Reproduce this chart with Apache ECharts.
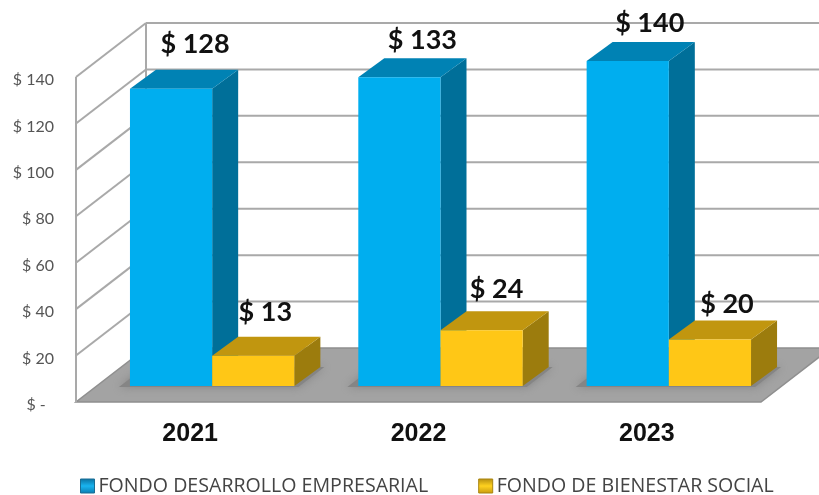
<!DOCTYPE html>
<html>
<head>
<meta charset="utf-8">
<style>
html, body { margin: 0; padding: 0; background: #fff; }
#Chart { width: 819px; height: 495px; }
</style>
<script src="https://cdn.jsdelivr.net/npm/echarts@6/dist/echarts.min.js"></script>
</head>
<body>
<div id="Chart"></div>
<script>
var categories = ['2021', '2022', '2023'];
var desarrollo = [128, 133, 140];
var bienestar = [13, 24, 20];
var yTicks = [0, 20, 40, 60, 80, 100, 120, 140];
var nameDesarrollo = 'FONDO DESARROLLO EMPRESARIAL';
var nameBienestar = 'FONDO DE BIENESTAR SOCIAL';

// 3d look: how far the back wall and the bars sit from the front plane
var WALL_DX = 70, WALL_DY = -54;
var BAR_DX = 22, BAR_DY = -16;
var DEPTH_DX = 26, DEPTH_DY = -19;
var LINE = '#a9a9a9';

var blue = {front: '#00aeef', top: '#0082b4', side: '#006f99'};
var yellow = {front: '#ffc716', top: '#c1960f', side: '#9c7c0d'};

// data labels were dragged by hand in the original, so each has its own nudge
var nudgeDesarrollo = [[24, -45], [23, -37], [22, -38]];
var nudgeBienestar = [[12, -44], [15, -41], [17, -35]];

var Chart = echarts.init(document.getElementById('Chart'));

function renderFrame(params, api) {
    var tick = api.value(0);
    var sys = params.coordSys;
    var y = api.coord([0, tick])[1];
    var x0 = sys.x, x1 = sys.x + sys.width;
    var children = [];
    var lineStyle = {stroke: LINE, lineWidth: 2};
    if (tick === 0) {
        children.push({
            type: 'polygon',
            shape: {points: [[x0, y], [x1, y], [x1 + WALL_DX, y + WALL_DY], [x0 + WALL_DX, y + WALL_DY]]},
            style: {fill: '#a3a3a3', stroke: '#8f8f8f', lineWidth: 1.5}
        });
        children.push({
            type: 'line',
            shape: {x1: x0, y1: y, x2: x0, y2: sys.y},
            style: lineStyle
        });
        children.push({
            type: 'line',
            shape: {x1: x0 + WALL_DX, y1: y + WALL_DY, x2: x0 + WALL_DX, y2: sys.y + WALL_DY},
            style: lineStyle
        });
    } else {
        children.push({
            type: 'line',
            shape: {x1: x0, y1: y, x2: x0 + WALL_DX, y2: y + WALL_DY},
            style: lineStyle
        });
        children.push({
            type: 'line',
            shape: {x1: x0 + WALL_DX, y1: y + WALL_DY, x2: x1 + WALL_DX, y2: y + WALL_DY},
            style: lineStyle
        });
    }
    return {type: 'group', children: children};
}

function renderShadow(params, api) {
    var base = api.coord([api.value(0), 0]);
    var w = api.size([1, 0])[0] * 0.36;
    var l = base[0] + BAR_DX - w - 11;
    var r = base[0] + BAR_DX + w + 4;
    var y = base[1] + BAR_DY;
    return {
        type: 'polygon',
        shape: {points: [[l, y + 1], [r, y + 1], [r + DEPTH_DX, y + DEPTH_DY], [l + DEPTH_DX, y + DEPTH_DY]]},
        style: {fill: '#858585', shadowBlur: 8, shadowColor: '#858585'}
    };
}

function barRenderer(colors, side, nudges) {
    return function (params, api) {
        var top = api.coord([api.value(0), api.value(1)]);
        var base = api.coord([api.value(0), 0]);
        var w = api.size([1, 0])[0] * 0.36;
        var x0 = top[0] + BAR_DX + side * w;
        var x1 = x0 + w;
        var yTop = top[1] + BAR_DY;
        var yBase = base[1] + BAR_DY;
        var nudge = nudges[params.dataIndex];
        return {
            type: 'group',
            children: [
                {
                    type: 'polygon',
                    shape: {points: [[x1, yTop], [x1 + DEPTH_DX, yTop + DEPTH_DY], [x1 + DEPTH_DX, yBase + DEPTH_DY], [x1, yBase]]},
                    style: {fill: colors.side}
                },
                {
                    type: 'polygon',
                    shape: {points: [[x0, yTop], [x1, yTop], [x1 + DEPTH_DX, yTop + DEPTH_DY], [x0 + DEPTH_DX, yTop + DEPTH_DY]]},
                    style: {fill: colors.top}
                },
                {
                    type: 'rect',
                    shape: {x: x0, y: yTop, width: w, height: yBase - yTop},
                    style: {fill: colors.front}
                },
                {
                    type: 'text',
                    z2: 100,
                    style: {
                        x: x0 + w / 2 + nudge[0],
                        y: yTop + nudge[1],
                        text: '$ ' + api.value(1),
                        align: 'center',
                        verticalAlign: 'middle',
                        fill: '#111',
                        font: 'bold 27px Lato'
                    }
                }
            ]
        };
    };
}

var ChartOption = {
    animation: false,
    backgroundColor: '#fff',
    grid: {left: 76, top: 77, width: 685, height: 325},
    legend: {
        left: 75,
        top: 471,
        icon: 'rect',
        itemWidth: 14,
        itemHeight: 14,
        itemGap: 50,
        textStyle: {color: '#444', fontFamily: 'Open Sans', fontSize: 19.6, padding: [0, 0, 0, -1]},
        data: [
            {
                name: nameDesarrollo,
                itemStyle: {
                    color: new echarts.graphic.LinearGradient(0, 0, 0, 1, [
                        {offset: 0, color: '#0a6f9e'}, {offset: 0.5, color: '#19b4f0'}, {offset: 1, color: '#0a7cb0'}
                    ]),
                    borderColor: '#1b6d94',
                    borderWidth: 1
                }
            },
            {
                name: nameBienestar,
                itemStyle: {
                    color: new echarts.graphic.LinearGradient(0, 0, 0, 1, [
                        {offset: 0, color: '#b38c10'}, {offset: 0.5, color: '#ffd21f'}, {offset: 1, color: '#c79a10'}
                    ]),
                    borderColor: '#a8840f',
                    borderWidth: 1
                }
            }
        ]
    },
    xAxis: {
        type: 'category',
        data: categories,
        axisLine: {show: false},
        axisTick: {show: false},
        axisLabel: {
            margin: 20,
            color: '#111',
            fontFamily: 'Liberation Sans',
            fontWeight: 'bold',
            fontSize: 25
        }
    },
    yAxis: {
        type: 'value',
        min: 0,
        max: 140,
        interval: 20,
        axisLine: {show: false},
        axisTick: {show: false},
        splitLine: {show: false},
        axisLabel: {
            margin: 22,
            formatter: function (v) {
                return '{t|' + (v === 0 ? '$ -  ' : '$ ' + v) + '}';
            },
            rich: {
                t: {
                    color: '#555',
                    fontFamily: 'Lato',
                    fontSize: 16,
                    padding: [6, 0, 0, 0]
                }
            }
        }
    },
    series: [
        {
            type: 'custom',
            name: 'frame',
            silent: true,
            renderItem: renderFrame,
            encode: {x: -1, y: 0},
            data: yTicks.map(function (t) { return [t]; }),
            z: 1
        },
        {
            type: 'custom',
            name: 'shadow',
            silent: true,
            renderItem: renderShadow,
            data: categories.map(function (c, i) { return [i]; }),
            z: 2
        },
        {
            type: 'custom',
            name: nameDesarrollo,
            renderItem: barRenderer(blue, -1, nudgeDesarrollo),
            itemStyle: {color: blue.front},
            data: desarrollo.map(function (v, i) { return [i, v]; }),
            z: 3
        },
        {
            type: 'custom',
            name: nameBienestar,
            renderItem: barRenderer(yellow, 0, nudgeBienestar),
            itemStyle: {color: yellow.front},
            data: bienestar.map(function (v, i) { return [i, v]; }),
            z: 4
        }
    ]
};

Chart.setOption(ChartOption);
</script>
</body>
</html>
